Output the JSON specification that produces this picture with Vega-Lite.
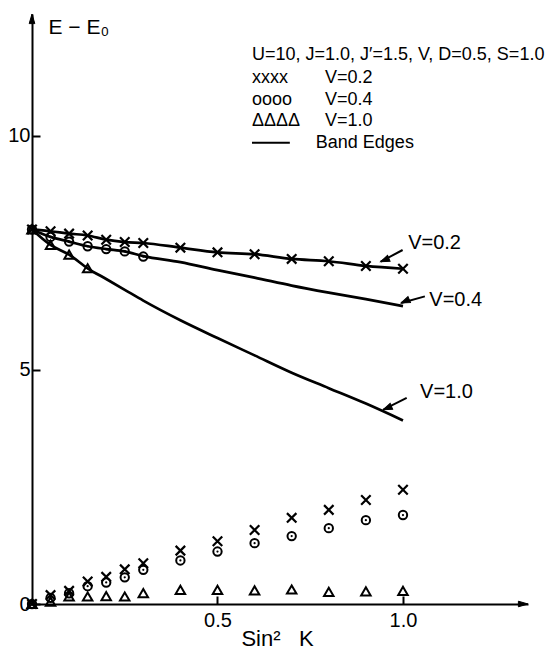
{
  "$schema": "https://vega.github.io/schema/vega-lite/v6.json",
  "width": 496,
  "height": 590,
  "autosize": {"type": "none"},
  "padding": {"left": 32, "top": 14, "right": 20, "bottom": 45},
  "background": "white",
  "config": {
    "view": {"stroke": null},
    "font": "Liberation Sans",
    "axis": {"grid": false}
  },
  "datasets": {
    "pts": [
      {"series": "V=0.2", "x": 0, "y": 8.0}, {"series": "V=0.2", "x": 0.05, "y": 7.96}, {"series": "V=0.2", "x": 0.1, "y": 7.91}, {"series": "V=0.2", "x": 0.15, "y": 7.87}, {"series": "V=0.2", "x": 0.2, "y": 7.78}, {"series": "V=0.2", "x": 0.25, "y": 7.73}, {"series": "V=0.2", "x": 0.3, "y": 7.71}, {"series": "V=0.2", "x": 0.4, "y": 7.61}, {"series": "V=0.2", "x": 0.5, "y": 7.51}, {"series": "V=0.2", "x": 0.6, "y": 7.47}, {"series": "V=0.2", "x": 0.7, "y": 7.37}, {"series": "V=0.2", "x": 0.8, "y": 7.32}, {"series": "V=0.2", "x": 0.9, "y": 7.22}, {"series": "V=0.2", "x": 1.0, "y": 7.16},
      {"series": "V=0.2", "x": 0, "y": 0}, {"series": "V=0.2", "x": 0.05, "y": 0.19}, {"series": "V=0.2", "x": 0.1, "y": 0.28}, {"series": "V=0.2", "x": 0.15, "y": 0.48}, {"series": "V=0.2", "x": 0.2, "y": 0.58}, {"series": "V=0.2", "x": 0.25, "y": 0.74}, {"series": "V=0.2", "x": 0.3, "y": 0.87}, {"series": "V=0.2", "x": 0.4, "y": 1.14}, {"series": "V=0.2", "x": 0.5, "y": 1.34}, {"series": "V=0.2", "x": 0.6, "y": 1.58}, {"series": "V=0.2", "x": 0.7, "y": 1.84}, {"series": "V=0.2", "x": 0.8, "y": 2.01}, {"series": "V=0.2", "x": 0.9, "y": 2.22}, {"series": "V=0.2", "x": 1.0, "y": 2.44},
      {"series": "V=0.4", "x": 0, "y": 8.0}, {"series": "V=0.4", "x": 0.05, "y": 7.84}, {"series": "V=0.4", "x": 0.1, "y": 7.74}, {"series": "V=0.4", "x": 0.15, "y": 7.64}, {"series": "V=0.4", "x": 0.2, "y": 7.58}, {"series": "V=0.4", "x": 0.25, "y": 7.53}, {"series": "V=0.4", "x": 0.3, "y": 7.42},
      {"series": "V=0.4", "x": 0, "y": 0}, {"series": "V=0.4", "x": 0.05, "y": 0.13}, {"series": "V=0.4", "x": 0.1, "y": 0.23}, {"series": "V=0.4", "x": 0.15, "y": 0.38}, {"series": "V=0.4", "x": 0.2, "y": 0.46}, {"series": "V=0.4", "x": 0.25, "y": 0.57}, {"series": "V=0.4", "x": 0.3, "y": 0.73}, {"series": "V=0.4", "x": 0.4, "y": 0.93}, {"series": "V=0.4", "x": 0.5, "y": 1.12}, {"series": "V=0.4", "x": 0.6, "y": 1.30}, {"series": "V=0.4", "x": 0.7, "y": 1.45}, {"series": "V=0.4", "x": 0.8, "y": 1.62}, {"series": "V=0.4", "x": 0.9, "y": 1.79}, {"series": "V=0.4", "x": 1.0, "y": 1.90},
      {"series": "V=1.0", "x": 0, "y": 8.0}, {"series": "V=1.0", "x": 0.05, "y": 7.67}, {"series": "V=1.0", "x": 0.1, "y": 7.46}, {"series": "V=1.0", "x": 0.15, "y": 7.17},
      {"series": "V=1.0", "x": 0, "y": 0}, {"series": "V=1.0", "x": 0.05, "y": 0.05}, {"series": "V=1.0", "x": 0.1, "y": 0.16}, {"series": "V=1.0", "x": 0.15, "y": 0.16}, {"series": "V=1.0", "x": 0.2, "y": 0.17}, {"series": "V=1.0", "x": 0.25, "y": 0.16}, {"series": "V=1.0", "x": 0.3, "y": 0.23}, {"series": "V=1.0", "x": 0.4, "y": 0.30}, {"series": "V=1.0", "x": 0.5, "y": 0.30}, {"series": "V=1.0", "x": 0.6, "y": 0.29}, {"series": "V=1.0", "x": 0.7, "y": 0.31}, {"series": "V=1.0", "x": 0.8, "y": 0.26}, {"series": "V=1.0", "x": 0.9, "y": 0.27}, {"series": "V=1.0", "x": 1.0, "y": 0.28}
    ],
    "edges": [
      {"series": "V=0.2", "x": 0, "y": 8.0}, {"series": "V=0.2", "x": 0.05, "y": 7.96}, {"series": "V=0.2", "x": 0.1, "y": 7.91}, {"series": "V=0.2", "x": 0.15, "y": 7.87}, {"series": "V=0.2", "x": 0.2, "y": 7.78}, {"series": "V=0.2", "x": 0.25, "y": 7.73}, {"series": "V=0.2", "x": 0.3, "y": 7.71}, {"series": "V=0.2", "x": 0.4, "y": 7.61}, {"series": "V=0.2", "x": 0.5, "y": 7.51}, {"series": "V=0.2", "x": 0.6, "y": 7.47}, {"series": "V=0.2", "x": 0.7, "y": 7.37}, {"series": "V=0.2", "x": 0.8, "y": 7.32}, {"series": "V=0.2", "x": 0.9, "y": 7.22}, {"series": "V=0.2", "x": 1.0, "y": 7.16},
      {"series": "V=0.4", "x": 0, "y": 8.0}, {"series": "V=0.4", "x": 0.05, "y": 7.84}, {"series": "V=0.4", "x": 0.1, "y": 7.74}, {"series": "V=0.4", "x": 0.15, "y": 7.64}, {"series": "V=0.4", "x": 0.2, "y": 7.58}, {"series": "V=0.4", "x": 0.25, "y": 7.53}, {"series": "V=0.4", "x": 0.3, "y": 7.43}, {"series": "V=0.4", "x": 0.4, "y": 7.30}, {"series": "V=0.4", "x": 0.5, "y": 7.13}, {"series": "V=0.4", "x": 0.6, "y": 6.97}, {"series": "V=0.4", "x": 0.7, "y": 6.80}, {"series": "V=0.4", "x": 0.8, "y": 6.65}, {"series": "V=0.4", "x": 0.9, "y": 6.51}, {"series": "V=0.4", "x": 1.0, "y": 6.36},
      {"series": "V=1.0", "x": 0, "y": 8.0}, {"series": "V=1.0", "x": 0.05, "y": 7.67}, {"series": "V=1.0", "x": 0.1, "y": 7.46}, {"series": "V=1.0", "x": 0.15, "y": 7.17}, {"series": "V=1.0", "x": 0.2, "y": 6.94}, {"series": "V=1.0", "x": 0.25, "y": 6.71}, {"series": "V=1.0", "x": 0.3, "y": 6.48}, {"series": "V=1.0", "x": 0.4, "y": 6.06}, {"series": "V=1.0", "x": 0.5, "y": 5.68}, {"series": "V=1.0", "x": 0.6, "y": 5.31}, {"series": "V=1.0", "x": 0.7, "y": 4.94}, {"series": "V=1.0", "x": 0.8, "y": 4.61}, {"series": "V=1.0", "x": 0.9, "y": 4.28}, {"series": "V=1.0", "x": 1.0, "y": 3.92}
    ],
    "rules": [
      {"x": 0.999, "y": 7.56, "x2": 0.940, "y2": 7.31},
      {"x": 1.059, "y": 6.57, "x2": 0.995, "y2": 6.43},
      {"x": 1.010, "y": 4.40, "x2": 0.947, "y2": 4.15},
      {"x": 0.593, "y": 9.85, "x2": 0.695, "y2": 9.85}
    ],
    "tips": [
      {"x": 0.940, "y": 7.31}, {"x": 0.995, "y": 6.43}, {"x": 0.947, "y": 4.15}
    ],
    "axisEnds": [
      {"dir": "up", "x": 0, "y": 12.6}, {"dir": "right", "x": 1.337, "y": 0}
    ],
    "curveLabels": [
      {"text": "V=0.2", "x": 1.014, "y": 7.72},
      {"text": "V=0.4", "x": 1.071, "y": 6.50},
      {"text": "V=1.0", "x": 1.046, "y": 4.52}
    ],
    "legendText": [
      {"text": "U=10, J=1.0, J′=1.5, V, D=0.5, S=1.0", "x": 0.593, "y": 11.73},
      {"text": "xxxx", "x": 0.593, "y": 11.24},
      {"text": "V=0.2", "x": 0.790, "y": 11.24},
      {"text": "oooo", "x": 0.593, "y": 10.77},
      {"text": "V=0.4", "x": 0.790, "y": 10.77},
      {"text": "ΔΔΔΔ", "x": 0.593, "y": 10.32},
      {"text": "V=1.0", "x": 0.790, "y": 10.32},
      {"text": "Band Edges", "x": 0.765, "y": 9.85}
    ]
  },
  "encoding": {
    "x": {
      "field": "x", "type": "quantitative",
      "scale": {"domain": [0, 1.337], "nice": false, "zero": false},
      "axis": {
        "values": [0.5, 1.0], "format": ".1f",
        "labelFontSize": 20, "labelColor": "black", "labelFont": "Liberation Sans",
        "tickColor": "black", "tickSize": -8, "tickWidth": 2,
        "domainColor": "black", "domainWidth": 2, "labelPadding": 14,
        "title": "Sin²\u00a0\u00a0\u00a0K", "titleFontSize": 22, "titleFontWeight": "normal", "titleColor": "black",
        "titleFont": "Liberation Sans",
        "titleX": 245, "titleY": 41, "titleBaseline": "alphabetic", "titleAlign": "center"
      }
    },
    "y": {
      "field": "y", "type": "quantitative",
      "scale": {"domain": [0, 12.6], "nice": false, "zero": false},
      "axis": {
        "values": [0, 5, 10], "format": "d",
        "labelFontSize": 20, "labelColor": "black", "labelFont": "Liberation Sans",
        "tickColor": "black", "tickSize": -8, "tickWidth": 2,
        "domainColor": "black", "domainWidth": 2, "labelPadding": 10,
        "title": "E − E₀", "titleFontSize": 21, "titleFontWeight": "normal", "titleColor": "black",
        "titleFont": "Liberation Sans", "titleAngle": 0,
        "titleX": 16, "titleY": 19, "titleBaseline": "alphabetic", "titleAlign": "left"
      }
    }
  },
  "layer": [
    {
      "data": {"name": "edges"},
      "mark": {"type": "line", "interpolate": "monotone", "stroke": "black", "strokeWidth": 2.7},
      "encoding": {"detail": {"field": "series", "type": "nominal"}}
    },
    {
      "data": {"name": "pts"},
      "transform": [{"filter": "datum.series === 'V=0.2'"}],
      "mark": {"type": "point", "shape": "M-1,-1L1,1M-1,1L1,-1", "filled": false, "stroke": "black", "strokeWidth": 2.2, "size": 90, "opacity": 1}
    },
    {
      "data": {"name": "pts"},
      "transform": [{"filter": "datum.series === 'V=0.4'"}],
      "mark": {"type": "point", "shape": "circle", "filled": false, "stroke": "black", "strokeWidth": 2, "size": 70, "opacity": 1}
    },
    {
      "data": {"name": "pts"},
      "transform": [{"filter": "datum.series === 'V=0.4'"}],
      "mark": {"type": "point", "shape": "circle", "filled": true, "fill": "black", "size": 5, "opacity": 1}
    },
    {
      "data": {"name": "pts"},
      "transform": [{"filter": "datum.series === 'V=1.0'"}],
      "mark": {"type": "point", "shape": "triangle-up", "filled": false, "stroke": "black", "strokeWidth": 2, "size": 90, "opacity": 1}
    },
    {
      "data": {"name": "rules"},
      "mark": {"type": "rule", "stroke": "black", "strokeWidth": 2},
      "encoding": {"x2": {"field": "x2"}, "y2": {"field": "y2"}}
    },
    {
      "data": {"name": "tips"},
      "mark": {"type": "point", "shape": "M0,0L0.8,2.2L-0.8,2.2Z", "filled": true, "fill": "black", "stroke": "black", "strokeWidth": 1, "size": 64, "angle": 247, "opacity": 1}
    },
    {
      "data": {"name": "axisEnds"},
      "mark": {"type": "point", "filled": true, "fill": "black", "stroke": "black", "strokeWidth": 1, "size": 64, "opacity": 1, "clip": false},
      "encoding": {
        "shape": {"field": "dir", "type": "nominal", "scale": {"domain": ["up", "right"], "range": ["M0,0L0.7,2.4L-0.7,2.4Z", "M0,0L-2.4,0.7L-2.4,-0.7Z"]}, "legend": null}
      }
    },
    {
      "data": {"name": "curveLabels"},
      "mark": {"type": "text", "align": "left", "baseline": "middle", "fontSize": 20, "font": "Liberation Sans", "fill": "black"},
      "encoding": {"text": {"field": "text"}}
    },
    {
      "data": {"name": "legendText"},
      "mark": {"type": "text", "align": "left", "baseline": "middle", "fontSize": 18, "font": "Liberation Sans", "fill": "black"},
      "encoding": {"text": {"field": "text"}}
    }
  ]
}
